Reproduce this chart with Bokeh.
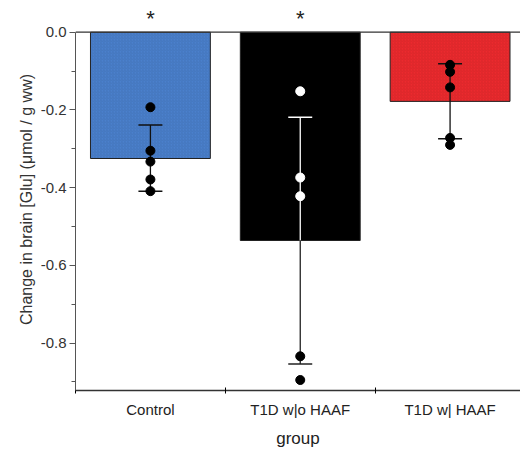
from bokeh.plotting import figure
from bokeh.models import ColumnDataSource, FixedTicker, Span, CustomJSTickFormatter, Title
from bokeh.core.properties import value
from bokeh.embed import file_html
from bokeh.resources import INLINE

groups = ["Control", "T1D w|o HAAF", "T1D w| HAAF"]
means = [-0.325, -0.536, -0.178]
sd_low = [-0.409, -0.854, -0.274]
sd_high = [-0.239, -0.219, -0.081]
pts_control = [-0.193, -0.305, -0.333, -0.379, -0.409]
pts_wo_haaf = [-0.152, -0.374, -0.422, -0.834, -0.895]
pts_w_haaf = [-0.084, -0.102, -0.142, -0.272, -0.290]
signif = ["*", "*", ""]

y_ticks = [0.0, -0.2, -0.4, -0.6, -0.8]
y_minor = [-0.1, -0.3, -0.5, -0.7, -0.9]

bar_colors = ["#4a80cc", "#000000", "#ec2a2e"]
FONT = "Liberation Sans"

xs = [1, 2, 3]
p = figure(width=520, height=450, output_backend="svg", toolbar_location=None,
           x_range=(0.5, 3.47), y_range=(-0.922, 0.061),
           min_border_left=75, min_border_right=0, min_border_top=8, min_border_bottom=55)
p.outline_line_color = None
p.xgrid.visible = False
p.ygrid.visible = False

src = ColumnDataSource(dict(x=xs, top=[0] * 3, bottom=means, color=bar_colors))
p.vbar(x="x", width=0.8, top="top", bottom="bottom", source=src,
       fill_color="color", line_color="#222222", line_width=1,
       hatch_pattern="/", hatch_color="#000000", hatch_alpha=0.12, hatch_scale=3, hatch_weight=0.6)

p.add_layout(Span(location=0, dimension="width", line_color="#333333", line_width=1.3))

# error bars
cap = 0.08
for i, x in enumerate(xs):
    lo, hi, m = sd_low[i], sd_high[i], means[i]
    if i == 1:
        p.segment(x0=[x], y0=[hi], x1=[x], y1=[m], line_color="white", line_width=1.3)
        p.segment(x0=[x - cap], y0=[hi], x1=[x + cap], y1=[hi], line_color="white", line_width=1.5)
        p.segment(x0=[x], y0=[m], x1=[x], y1=[lo], line_color="#222222", line_width=1.3)
        p.segment(x0=[x - cap], y0=[lo], x1=[x + cap], y1=[lo], line_color="#222222", line_width=1.5)
    else:
        p.segment(x0=[x], y0=[hi], x1=[x], y1=[lo], line_color="#111111", line_width=1.3)
        p.segment(x0=[x - cap, x - cap], y0=[hi, lo], x1=[x + cap, x + cap], y1=[hi, lo],
                  line_color="#111111", line_width=1.5)

# individual points
all_pts = [pts_control, pts_wo_haaf, pts_w_haaf]
px, py, pc = [], [], []
for i, pts in enumerate(all_pts):
    for v in pts:
        px.append(xs[i])
        py.append(v)
        inside_black = (i == 1 and v > means[i])
        pc.append("white" if inside_black else "black")
p.scatter(x=px, y=py, size=9, fill_color=pc, line_color=pc)

# significance stars
p.text(x=xs, y=[0.036] * 3, text=signif, text_font=value(FONT), text_font_size="22px",
       text_align="center", text_baseline="middle", text_color="#222222")

# y axis title as a left-side Title panel
p.add_layout(Title(text="Change in brain [Glu] (\u03bcmol / g ww)", align="center",
                   text_font=FONT, text_font_size="16px", text_font_style="normal",
                   text_color="#333333", standoff=6), "left")

# axes
p.yaxis.ticker = FixedTicker(ticks=y_ticks, minor_ticks=y_minor)
p.yaxis.bounds = (-0.922, 0)
p.yaxis.formatter = CustomJSTickFormatter(code="return tick.toFixed(1);")
p.yaxis.major_label_text_font = FONT
p.yaxis.major_label_text_font_size = "15px"
p.yaxis.major_label_text_color = "#333333"
p.yaxis.major_label_standoff = 3
p.yaxis.major_tick_out = 6
p.yaxis.major_tick_in = 0
p.yaxis.minor_tick_out = 4
p.yaxis.minor_tick_in = 0
p.yaxis.axis_line_color = "#555555"
p.yaxis.major_tick_line_color = "#555555"
p.yaxis.minor_tick_line_color = "#555555"

p.xaxis.ticker = FixedTicker(ticks=xs, minor_ticks=[0.5, 1.5, 2.5])
p.xaxis.major_label_overrides = {xs[i]: groups[i] for i in range(3)}
p.xaxis.axis_label = "group"
p.xaxis.axis_label_text_font = FONT
p.xaxis.axis_label_text_font_style = "normal"
p.xaxis.axis_label_text_font_size = "17px"
p.xaxis.axis_label_text_color = "#222222"
p.xaxis.axis_label_standoff = 8
p.xaxis.major_label_text_font = FONT
p.xaxis.major_label_text_font_size = "15px"
p.xaxis.major_label_text_color = "#222222"
p.xaxis.major_label_standoff = 7
p.xaxis.major_tick_out = 0
p.xaxis.major_tick_in = 0
p.xaxis.minor_tick_out = 3
p.xaxis.minor_tick_in = 3
p.xaxis.axis_line_color = "#333333"
p.xaxis.axis_line_width = 1.5

open("out.html", "w").write(file_html(p, INLINE))
